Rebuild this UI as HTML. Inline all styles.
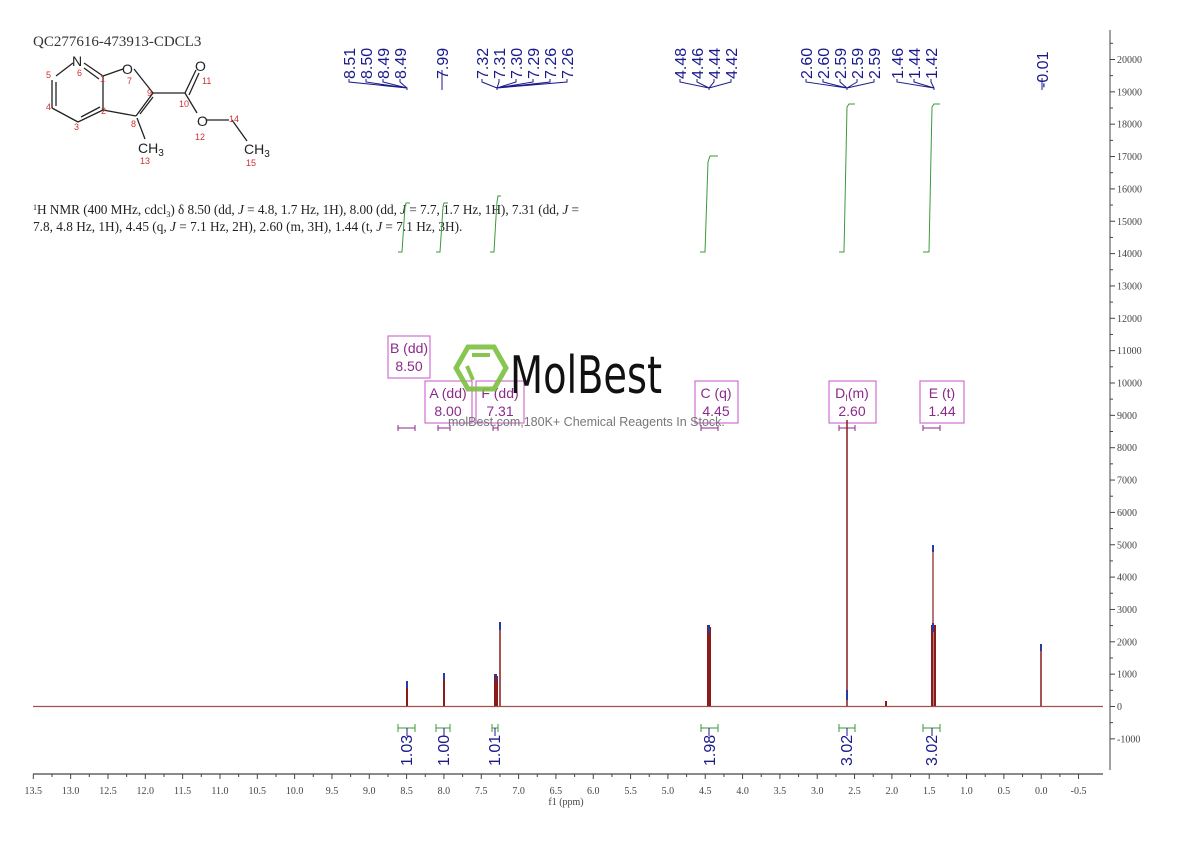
<!DOCTYPE html>
<html><head><meta charset="utf-8"><style>
html,body{margin:0;padding:0;background:#fff;}
svg{display:block;font-family:"Liberation Sans",sans-serif;}
.tk{font-family:"Liberation Serif",serif;font-size:10px;fill:#444;}
.pl{font-size:16px;fill:#1a1a8c;}
.bx{fill:none;stroke:#d070d0;stroke-width:1.2;}
.bt{font-size:14px;fill:#8b2a8b;text-anchor:middle;}
.ig{fill:none;stroke:#3a9a3a;stroke-width:1;}
.sp{stroke:#8b1a1a;stroke-width:2;}
</style></head><body>
<svg width="1190" height="841" viewBox="0 0 1190 841">
<rect width="1190" height="841" fill="#fff"/>
<text x="33" y="46" font-family="Liberation Serif,serif" font-size="15" fill="#333">QC277616-473913-CDCL3</text>
<g stroke="#222" stroke-width="1.3" fill="none">
<line x1="56" y1="76" x2="73" y2="63"/>
<line x1="84" y1="63" x2="103" y2="76"/><line x1="84" y1="68" x2="99" y2="79"/>
<line x1="103" y1="76" x2="123" y2="69"/>
<line x1="103" y1="76" x2="103" y2="110"/>
<line x1="52" y1="80" x2="52" y2="108"/><line x1="56" y1="82" x2="56" y2="106"/>
<line x1="52" y1="108" x2="78" y2="122"/>
<line x1="78" y1="122" x2="103" y2="110"/><line x1="81" y1="117" x2="100" y2="107"/>
<line x1="103" y1="110" x2="136" y2="116"/>
<line x1="136" y1="116" x2="153" y2="93"/><line x1="140" y1="114" x2="153" y2="97"/>
<line x1="134" y1="69" x2="153" y2="93"/>
<line x1="153" y1="93" x2="185" y2="93"/>
<line x1="185" y1="93" x2="196" y2="70"/><line x1="189" y1="95" x2="199" y2="73"/>
<line x1="185" y1="93" x2="197" y2="113"/>
<line x1="206" y1="120" x2="229" y2="120"/>
<line x1="232" y1="120" x2="247" y2="141"/>
<line x1="137" y1="118" x2="145" y2="139"/>
</g>
<g font-size="14" fill="#222">
<text x="72" y="66">N</text><text x="122" y="74">O</text><text x="195" y="71">O</text><text x="197" y="126">O</text>
<text x="138" y="153">CH<tspan font-size="10" dy="3">3</tspan></text>
<text x="244" y="154">CH<tspan font-size="10" dy="3">3</tspan></text>
</g>
<g font-size="9" fill="#d03030">
<text x="46" y="78">5</text><text x="77" y="76">6</text><text x="100" y="82">1</text><text x="127" y="84">7</text>
<text x="46" y="110">4</text><text x="74" y="130">3</text><text x="101" y="114">2</text><text x="131" y="127">8</text>
<text x="147" y="96">9</text><text x="179" y="107">10</text><text x="202" y="84">11</text><text x="195" y="140">12</text>
<text x="229" y="122">14</text><text x="140" y="164">13</text><text x="246" y="166">15</text>
</g>
<g font-family="Liberation Serif,serif" font-size="13.3" fill="#222">
<text x="33" y="214" textLength="546" lengthAdjust="spacing"><tspan font-size="8" dy="-4">1</tspan><tspan dy="4">H NMR (400 MHz, cdcl</tspan><tspan font-size="8" dy="3">3</tspan><tspan dy="-3">) δ 8.50 (dd, </tspan><tspan font-style="italic">J</tspan> = 4.8, 1.7 Hz, 1H), 8.00 (dd, <tspan font-style="italic">J</tspan> = 7.7, 1.7 Hz, 1H), 7.31 (dd, <tspan font-style="italic">J</tspan> =</text>
<text x="33" y="231">7.8, 4.8 Hz, 1H), 4.45 (q, <tspan font-style="italic">J</tspan> = 7.1 Hz, 2H), 2.60 (m, 3H), 1.44 (t, <tspan font-style="italic">J</tspan> = 7.1 Hz, 3H).</text>
</g>
<g class="pl">
<text transform="translate(355,79) rotate(-90)">8.51</text>
<text transform="translate(372,79) rotate(-90)">8.50</text>
<text transform="translate(389,79) rotate(-90)">8.49</text>
<text transform="translate(406,79) rotate(-90)">8.49</text>
<text transform="translate(448,79) rotate(-90)">7.99</text>
<text transform="translate(488,79) rotate(-90)">7.32</text>
<text transform="translate(505,79) rotate(-90)">7.31</text>
<text transform="translate(522,79) rotate(-90)">7.30</text>
<text transform="translate(539,79) rotate(-90)">7.29</text>
<text transform="translate(556,79) rotate(-90)">7.26</text>
<text transform="translate(573,79) rotate(-90)">7.26</text>
<text transform="translate(686,79) rotate(-90)">4.48</text>
<text transform="translate(703,79) rotate(-90)">4.46</text>
<text transform="translate(720,79) rotate(-90)">4.44</text>
<text transform="translate(737,79) rotate(-90)">4.42</text>
<text transform="translate(812,79) rotate(-90)">2.60</text>
<text transform="translate(829,79) rotate(-90)">2.60</text>
<text transform="translate(846,79) rotate(-90)">2.59</text>
<text transform="translate(863,79) rotate(-90)">2.59</text>
<text transform="translate(880,79) rotate(-90)">2.59</text>
<text transform="translate(903,79) rotate(-90)">1.46</text>
<text transform="translate(920,79) rotate(-90)">1.44</text>
<text transform="translate(937,79) rotate(-90)">1.42</text>
<text transform="translate(1048,88) rotate(-90)">-0.01</text>
</g>
<g stroke="#1a1a8c" stroke-width="1" fill="none">
<path d="M349,79v3L407,88v2M366,79v3L407,88M383,79v3L407,88M400,79v3L407,88"/>
<path d="M442,70v20"/>
<path d="M482,79v3L497,88v2M499,79v3L497,88M516,79v3L497,88M533,79v3L497,88M550,79v3L497,88M567,79v3L497,88"/>
<path d="M680,79v3L709,88v2M697,79v3L709,88M714,79v3L709,88M731,79v3L709,88"/>
<path d="M806,79v3L847,88v2M823,79v3L847,88M840,79v3L847,88M857,79v3L847,88M874,79v3L847,88"/>
<path d="M897,79v3L934,88v2M914,79v3L934,88M931,79v3L934,88"/>
<path d="M1042,78v12"/>
</g>
<g class="ig">
<path d="M398,252h4c1-15,2-30,3-45l1-4h4"/>
<path d="M436,252h4c1-15,2-30,3-45l1-4h4"/>
<path d="M490,252h4c1-18,2-36,3-50l1-6h3"/>
<path d="M700,252h5c1-30,2-60,3-90l2-6h8"/>
<path d="M839,252h5c1-50,2-100,3-145l2-3h6"/>
<path d="M923,252h6c1-50,2-100,3-145l2-3h6"/>
</g>
<rect class="bx" x="388" y="336" width="42" height="42"/>
<text class="bt" x="409" y="353">B (dd)</text><text class="bt" x="409" y="371">8.50</text>
<rect class="bx" x="425" y="381" width="47" height="42"/>
<text class="bt" x="448" y="398">A (dd)</text><text class="bt" x="448" y="416">8.00</text>
<rect class="bx" x="476" y="381" width="48" height="42"/>
<text class="bt" x="500" y="398">F (dd)</text><text class="bt" x="500" y="416">7.31</text>
<rect class="bx" x="695" y="381" width="43" height="42"/>
<text class="bt" x="716" y="398">C (q)</text><text class="bt" x="716" y="416">4.45</text>
<rect class="bx" x="829" y="381" width="47" height="42"/>
<text class="bt" x="852" y="398">D<tspan font-size="9" dy="3">I</tspan><tspan dy="-3">(m)</tspan></text><text class="bt" x="852" y="416">2.60</text>
<rect class="bx" x="920" y="381" width="44" height="42"/>
<text class="bt" x="942" y="398">E (t)</text><text class="bt" x="942" y="416">1.44</text>
<g stroke="#8b2a8b" stroke-width="1" fill="none">
<path d="M398,428h17M398,425v6M415,425v6"/>
<path d="M438,428h12M438,425v6M450,425v6"/>
<path d="M493,428h5M493,425v6M498,425v6"/>
<path d="M701,428h17M701,425v6M718,425v6"/>
<path d="M839,428h16M839,425v6M855,425v6"/>
<path d="M923,428h17M923,425v6M940,425v6"/>
</g>
<g opacity="0.9">
<polygon points="456,368 468,347 494,347 506,368 494,389 468,389" fill="none" stroke="#7cc040" stroke-width="5"/>
<line x1="472" y1="355" x2="490" y2="355" stroke="#7cc040" stroke-width="4"/>
<line x1="467" y1="366" x2="473" y2="380" stroke="#7cc040" stroke-width="4"/>
</g>
<text x="510" y="393" font-size="52" fill="#111" textLength="152" lengthAdjust="spacingAndGlyphs" font-family="DejaVu Sans Condensed,Liberation Sans Narrow,sans-serif">MolBest</text>
<text x="448" y="426" font-size="12.5" fill="#777">molBest.com,180K+ Chemical Reagents In Stock.</text>
<line x1="1110" y1="30" x2="1110" y2="770" stroke="#444"/>
<g id="yt"></g>
<line x1="33" y1="706.5" x2="1103" y2="706.5" stroke="#a05050" stroke-width="1.2"/>
<g class="sp">
<line x1="407" y1="706" x2="407" y2="681"/>
<line x1="444" y1="706" x2="444" y2="673"/>
<line x1="495" y1="706" x2="495" y2="674"/><line x1="497" y1="706" x2="497" y2="676"/>
<line x1="500" y1="706" x2="500" y2="622" stroke-width="1.5"/>
<line x1="708" y1="706" x2="708" y2="625"/><line x1="710" y1="706" x2="710" y2="627"/>
<line x1="847" y1="706" x2="847" y2="420" stroke-width="1.5"/>
<line x1="886" y1="706" x2="886" y2="701"/>
<line x1="932" y1="706" x2="932" y2="625"/><line x1="933" y1="706" x2="933" y2="545" stroke-width="1.2"/><line x1="935" y1="706" x2="935" y2="625"/>
<line x1="1041" y1="706" x2="1041" y2="648" stroke-width="1.5"/>
</g>
<g stroke="#2a3aa0" stroke-width="2">
<line x1="407" y1="681" x2="407" y2="688"/><line x1="444" y1="673" x2="444" y2="680"/>
<line x1="496" y1="674" x2="496" y2="682"/><line x1="500" y1="622" x2="500" y2="630"/>
<line x1="709" y1="625" x2="709" y2="633"/><line x1="933" y1="545" x2="933" y2="552"/>
<line x1="933" y1="623" x2="933" y2="632"/><line x1="1041" y1="644" x2="1041" y2="651"/>
<line x1="847" y1="690" x2="847" y2="700"/>
</g>
<g stroke="#3a9a3a" stroke-width="1" fill="none">
<path d="M398,728h17M398,724v8M415,724v8"/>
<path d="M436,728h14M436,724v8M450,724v8"/>
<path d="M492,728h6M492,724v8M498,724v8"/>
<path d="M701,728h17M701,724v8M718,724v8"/>
<path d="M839,728h16M839,724v8M855,724v8"/>
<path d="M923,728h17M923,724v8M940,724v8"/>
</g>
<g class="pl" font-size="15">
<text transform="translate(412,766) rotate(-90)">1.03</text>
<text transform="translate(449,766) rotate(-90)">1.00</text>
<text transform="translate(500,766) rotate(-90)">1.01</text>
<text transform="translate(715,766) rotate(-90)">1.98</text>
<text transform="translate(852,766) rotate(-90)">3.02</text>
<text transform="translate(937,766) rotate(-90)">3.02</text>
</g>
<g stroke="#1a1a8c" stroke-width="1">
<line x1="407" y1="728" x2="407" y2="736"/><line x1="444" y1="728" x2="444" y2="736"/>
<line x1="495" y1="728" x2="495" y2="736"/><line x1="709" y1="728" x2="709" y2="736"/>
<line x1="847" y1="728" x2="847" y2="736"/><line x1="932" y1="728" x2="932" y2="736"/>
</g>
<line x1="33" y1="774" x2="1103" y2="774" stroke="#444" stroke-width="1.2"/>
<g id="xt"></g>
<text class="tk" x="566" y="805" text-anchor="middle">f1 (ppm)</text>
<script>
(function(){
var ns="http://www.w3.org/2000/svg",xt=document.getElementById("xt"),yt=document.getElementById("yt");
function el(n,a,p,t){var e=document.createElementNS(ns,n);for(var k in a)e.setAttribute(k,a[k]);if(t)e.textContent=t;p.appendChild(e);return e;}
for(var i=0;i<=28;i++){var v=13.5-i*0.5;var x=33.3+i*37.33;
 el("line",{x1:x,y1:774,x2:x,y2:779,stroke:"#444"},xt);
 if(i<28)el("line",{x1:x+18.67,y1:774,x2:x+18.67,y2:777,stroke:"#444"},xt);
 el("text",{x:x,y:794,"class":"tk","text-anchor":"middle"},xt,(v<0?"-":"")+Math.abs(v).toFixed(1));
}
for(var k=-1;k<=20;k++){var y=706.5-k*32.35;
 el("line",{x1:1110,y1:y,x2:1115,y2:y,stroke:"#444"},yt);
 el("line",{x1:1110,y1:y-16.2,x2:1113,y2:y-16.2,stroke:"#444"},yt);
 el("text",{x:1117,y:y+3.5,"class":"tk"},yt,String(k*1000));
}
})();
</script>
</svg>
</body></html>
